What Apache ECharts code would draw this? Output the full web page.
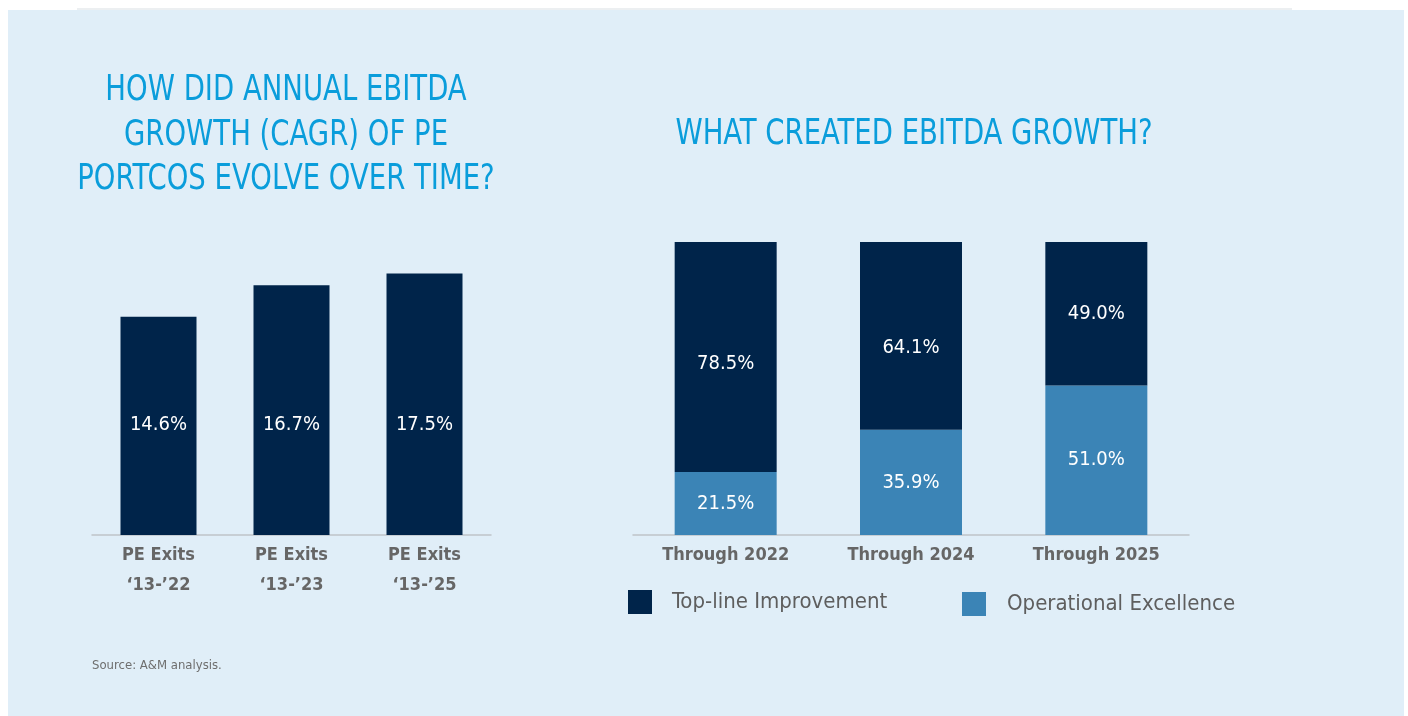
<!DOCTYPE html>
<html>
<head>
<meta charset="utf-8">
<script src="https://cdn.jsdelivr.net/npm/echarts@6/dist/echarts.min.js"></script>
<style>
  html, body { margin: 0; padding: 0; background: #ffffff; }
  #chart { width: 1408px; height: 716px; }
</style>
</head>
<body>
<div id="chart"></div>
<script>
// ---- data ----
const leftCategories = ["PE Exits\n\u201813-\u201922", "PE Exits\n\u201813-\u201923", "PE Exits\n\u201813-\u201925"];
const leftValues = [14.6, 16.7, 17.5];

const rightCategories = ["Through 2022", "Through 2024", "Through 2025"];
const topLineValues = [78.5, 64.1, 49.0];
const operationalValues = [21.5, 35.9, 51.0];

const leftTitle = "HOW DID ANNUAL EBITDA\nGROWTH (CAGR) OF PE\nPORTCOS EVOLVE OVER TIME?";
const rightTitle = "WHAT CREATED EBITDA GROWTH?";
const seriesNames = ["Top-line Improvement", "Operational Excellence"];
const sourceText = "Source: A&M analysis.";

// ---- styling ----
const FONT = "'Liberation Sans Narrow', 'Arial Narrow', 'DejaVu Sans Condensed', sans-serif";
const NAVY = "#00244A";
const LIGHT = "#3B84B6";
const TITLE_BLUE = "#0A9DDB";
const GRAY = "#666666";
const topLabelOffsets = [7, 12, 0];
const TITLE_SCALE_X = 0.85;

const chart = echarts.init(document.getElementById('chart'), null, { renderer: 'canvas' });

const catAxisCommon = {
  type: 'category',
  axisTick: { show: false },
  axisLine: { show: true, lineStyle: { color: '#BFC3C7', width: 1.5 } },
  axisLabel: { color: GRAY, fontSize: 18, fontFamily: FONT, fontWeight: 'bold', margin: 5, lineHeight: 30 }
};

const option = {
  backgroundColor: '#ffffff',
  animation: false,
  textStyle: { fontFamily: FONT },
  graphic: [
    { type: 'rect', silent: true, z: -10, shape: { x: 8, y: 10, width: 1396, height: 706 }, style: { fill: '#E0EEF8' } },
    { type: 'rect', silent: true, z: -10, shape: { x: 77, y: 8, width: 1215, height: 2 }, style: { fill: '#ECEFF1' } },
    { type: 'text', silent: true, x: 92, y: 666, style: { text: sourceText, fill: '#6E6E6E', font: '13px ' + FONT, textVerticalAlign: 'middle' } },
    { type: 'text', silent: true, x: 286, y: 68.5, scaleX: TITLE_SCALE_X, originX: 0,
      style: { text: leftTitle, fill: TITLE_BLUE, font: '36px ' + FONT, textAlign: 'center', textVerticalAlign: 'top', lineHeight: 44.5 } },
    { type: 'text', silent: true, x: 914, y: 113, scaleX: TITLE_SCALE_X, originX: 0,
      style: { text: rightTitle, fill: TITLE_BLUE, font: '36px ' + FONT, textAlign: 'center', textVerticalAlign: 'top', lineHeight: 44 } }
  ],
  legend: [
    { data: [seriesNames[0]], left: 628, top: 590, itemWidth: 24, itemHeight: 24, icon: 'rect', padding: 0,
      textStyle: { color: '#5E5E5E', fontSize: 22, fontFamily: FONT, padding: [0, 0, 0, 15] } },
    { data: [seriesNames[1]], left: 962, top: 592, itemWidth: 24, itemHeight: 24, icon: 'rect', padding: 0,
      textStyle: { color: '#5E5E5E', fontSize: 22, fontFamily: FONT, padding: [0, 0, 0, 16] } }
  ],
  grid: [
    { left: 92, top: 236, width: 399, height: 299 },
    { left: 633, top: 242, width: 556, height: 293 }
  ],
  xAxis: [
    Object.assign({}, catAxisCommon, { gridIndex: 0, data: leftCategories }),
    Object.assign({}, catAxisCommon, { gridIndex: 1, data: rightCategories })
  ],
  yAxis: [
    { type: 'value', gridIndex: 0, min: 0, max: 20, show: false },
    { type: 'value', gridIndex: 1, min: 0, max: 100, show: false }
  ],
  series: [
    {
      name: 'CAGR', type: 'bar', xAxisIndex: 0, yAxisIndex: 0, barWidth: 76,
      data: leftValues,
      itemStyle: { color: NAVY },
      label: { show: true, position: 'insideBottom', distance: 100, color: '#ffffff', fontSize: 20, fontFamily: FONT,
        formatter: p => p.value.toFixed(1) + '%' }
    },
    {
      name: seriesNames[1], type: 'bar', xAxisIndex: 1, yAxisIndex: 1, stack: 'total', barWidth: 102,
      data: operationalValues,
      itemStyle: { color: LIGHT },
      label: { show: true, position: 'inside', color: '#ffffff', fontSize: 20, fontFamily: FONT,
        formatter: p => p.value.toFixed(1) + '%' }
    },
    {
      name: seriesNames[0], type: 'bar', xAxisIndex: 1, yAxisIndex: 1, stack: 'total', barWidth: 102,
      data: topLineValues.map((v, i) => ({ value: v, label: { offset: [0, topLabelOffsets[i]] } })),
      itemStyle: { color: NAVY },
      label: { show: true, position: 'inside', color: '#ffffff', fontSize: 20, fontFamily: FONT,
        formatter: p => p.value.toFixed(1) + '%' }
    }
  ]
};

chart.setOption(option);
</script>
</body>
</html>
